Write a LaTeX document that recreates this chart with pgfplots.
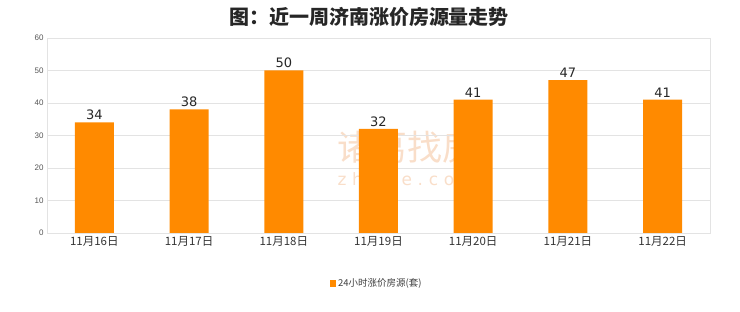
\documentclass[border=0pt]{standalone}
\usepackage{pgfplots}
\pgfplotsset{compat=1.18}
\usepackage{fontspec}
\setmainfont{Liberation Sans}
\newfontfamily\cjk{Noto Sans CJK SC}
\newfontfamily\dejavu{DejaVu Sans}
\definecolor{barorange}{HTML}{FF8A00}
\definecolor{gridgray}{HTML}{E3E3E3}
\definecolor{ticktext}{HTML}{555555}
\definecolor{wm}{HTML}{F9DEC9}
\begin{document}
\begin{tikzpicture}
\node[font=\cjk\bfseries\fontsize{20}{23}\selectfont, text=black!85] at (369pt,295pt) {图：近一周济南涨价房源量走势};
\node[font=\cjk\fontsize{35}{38}\selectfont, text=wm] at (407pt,165pt) {诸葛找房};
\node[font=\dejavu\fontsize{17}{20}\selectfont, text=wm] at (407pt,131pt) {z\,\,h\,\,u\,\,g\,\,e\,\,.\,\,c\,\,o\,\,m};
\begin{axis}[
  at={(47pt,79pt)}, anchor=south west,
  width=663pt, height=195pt, scale only axis,
  xmin=-0.5, xmax=6.5, ymin=0, ymax=60,
  ytick={0,10,20,30,40,50,60},
  xtick={0,1,2,3,4,5,6},
  xticklabels={11月16日,11月17日,11月18日,11月19日,11月20日,11月21日,11月22日},
  xticklabel style={font=\cjk\fontsize{11.5}{13}\selectfont, text=black!80},
  yticklabel style={font=\fontsize{8}{10}\selectfont, text=ticktext},
  /pgf/number format/assume math mode=true,
  ymajorgrids, grid style={gridgray, line width=0.6pt},
  axis line style={gridgray, line width=0.8pt},
  major tick length=0pt,
  ybar, bar width=39pt,
  nodes near coords,
  nodes near coords style={font=\dejavu\fontsize{13}{15}\selectfont, text=black!85, yshift=-1pt},
  legend style={at={(0.497,-0.26)}, anchor=center, draw=none, fill=white,
    font=\cjk\fontsize{9.5}{11}\selectfont, text=black!75},
  legend image code/.code={\fill[barorange] (0pt,-3pt) rectangle (6.5pt,3.5pt);},
]
\addplot[fill=barorange, draw=none] coordinates {(0,34) (1,38) (2,50) (3,32) (4,41) (5,47) (6,41)};
\addlegendentry{24小时涨价房源(套)}
\end{axis}
\pgfresetboundingbox
\useasboundingbox (0pt,0pt) rectangle (740pt,312pt);
\end{tikzpicture}
\end{document}
